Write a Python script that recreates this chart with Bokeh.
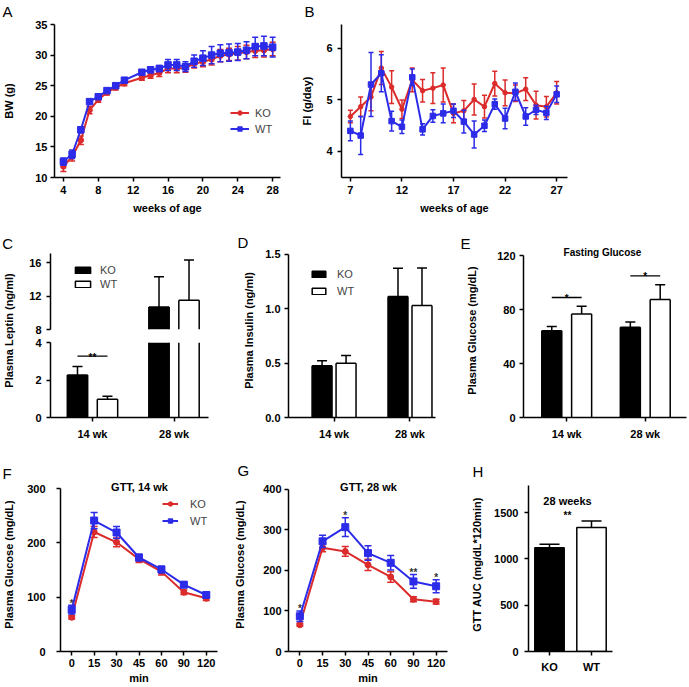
import numpy as np
from bokeh.plotting import figure
from bokeh.layouts import row, column
from bokeh.models import (Range1d, FactorRange, FixedTicker, Label, Legend,
                          LegendItem, PrintfTickFormatter, Title)
from bokeh.core.properties import value
from bokeh.embed import file_html
from bokeh.resources import INLINE

# ---------------- data ----------------
# A: body weight
bw_weeks = [4, 5, 6, 7, 8, 9, 10, 11, 13, 14, 15, 16, 17, 18, 19, 20, 21, 22, 23, 24, 25, 26, 27, 28]
bw_ko = [11.8, 13.4, 16.1, 21.0, 22.7, 23.9, 24.7, 25.4, 26.3, 26.7, 27.1, 27.8,
         27.8, 27.9, 28.6, 28.9, 29.3, 29.9, 30.1, 30.3, 30.5, 30.7, 30.8, 31.0]
bw_ko_err = [0.8, 0.7, 0.7, 0.6, 0.4, 0.4, 0.4, 0.4, 0.4, 0.5, 0.6, 0.7,
             0.7, 0.7, 0.7, 0.8, 0.9, 1.0, 1.0, 1.1, 1.1, 1.1, 1.1, 1.1]
bw_wt = [12.6, 13.8, 17.8, 22.4, 23.2, 24.2, 25.0, 25.9, 27.2, 27.6, 27.8, 28.4,
         28.4, 28.1, 29.0, 29.5, 30.0, 30.3, 30.4, 30.5, 30.8, 31.4, 31.5, 31.3]
bw_wt_err = [0.6, 0.7, 0.5, 0.3, 0.3, 0.3, 0.3, 0.4, 0.4, 0.5, 0.5, 0.9,
             0.9, 0.8, 1.0, 1.2, 1.4, 1.4, 1.4, 1.4, 1.4, 1.5, 1.6, 1.6]

# B: food intake
fi_weeks = [7, 8, 9, 10, 11, 12, 13, 14, 15, 16, 17, 18, 19, 20, 21, 22, 23, 24, 25, 26, 27]
fi_ko = [4.68, 4.87, 5.06, 5.62, 5.25, 4.82, 5.39, 5.18, 5.23, 5.29, 4.74,
         4.79, 5.01, 4.87, 5.32, 5.14, 5.13, 5.21, 4.90, 4.87, 5.14]
fi_ko_err = [0.12, 0.19, 0.27, 0.32, 0.32, 0.18, 0.23, 0.22, 0.30, 0.33, 0.18,
             0.20, 0.30, 0.22, 0.24, 0.25, 0.16, 0.22, 0.27, 0.20, 0.22]
fi_wt = [4.40, 4.31, 5.30, 5.52, 4.59, 4.48, 5.44, 4.43, 4.69, 4.74, 4.79,
         4.58, 4.33, 4.50, 4.92, 4.64, 5.16, 4.68, 4.81, 4.75, 5.11]
fi_wt_err = [0.19, 0.37, 0.62, 0.36, 0.19, 0.13, 0.16, 0.11, 0.12, 0.18, 0.13,
             0.22, 0.26, 0.11, 0.10, 0.20, 0.17, 0.17, 0.09, 0.13, 0.16]

# C-E: grouped bars
groups = ["14 wk", "28 wk"]
leptin_ko = [2.27, 10.7]
leptin_ko_err = [0.45, 3.6]
leptin_wt = [0.98, 11.5]
leptin_wt_err = [0.15, 4.8]
leptin_sig = ["**", ""]

insulin_ko = [0.477, 1.114]
insulin_ko_err = [0.045, 0.26]
insulin_wt = [0.50, 1.03]
insulin_wt_err = [0.07, 0.345]

glucose_ko = [64.3, 66.8]
glucose_ko_err = [3.2, 4.0]
glucose_wt = [76.7, 87.4]
glucose_wt_err = [5.7, 11.0]
glucose_sig = ["*", "*"]

# F-G: GTT
gtt_min = ["0", "15", "30", "45", "60", "90", "120"]
gtt14_ko = [63, 220, 201, 170, 147, 109, 98]
gtt14_ko_err = [3, 10, 8, 6, 6, 4, 4]
gtt14_wt = [77, 241, 219, 173, 151, 123, 104]
gtt14_wt_err = [8, 15, 11, 6, 6, 5, 5]
gtt14_sig = ["*", "", "", "", "", "", ""]

gtt28_ko = [66, 256, 247, 214, 184, 129, 123]
gtt28_ko_err = [3, 10, 12, 14, 13, 6, 6]
gtt28_wt = [87, 272, 307, 243, 219, 173, 161]
gtt28_wt_err = [13, 15, 23, 18, 18, 17, 16]
gtt28_sig = ["*", "", "*", "", "", "**", "*"]

# H: AUC
auc_groups = ["KO", "WT"]
auc = [1120, 1337]
auc_err = [37, 72]

# ---------------- styling helpers ----------------
FONT = "Liberation Sans"
RED = "#db2b2b"
BLUE = "#2b2be8"
LETTER_H = 17


def make(box, frame, xr, yr, x_axis=True, y_axis=True):
    bx0, by0, bx1, by1 = box
    fx0, fy0, fx1, fy1 = frame
    p = figure(width=bx1 - bx0, height=by1 - by0, x_range=xr, y_range=yr,
               output_backend="svg", toolbar_location=None,
               x_axis_location="below" if x_axis else None,
               y_axis_location="left" if y_axis else None,
               min_border_left=fx0 - bx0, min_border_right=bx1 - fx1,
               min_border_top=fy0 - by0, min_border_bottom=by1 - fy1)
    p.outline_line_color = None
    p.background_fill_color = "white"
    p.border_fill_color = "white"
    p.grid.visible = False
    for ax in p.axis:
        ax.axis_line_width = 1.5
        ax.axis_line_color = "black"
        ax.major_tick_line_width = 1.5
        ax.major_tick_line_color = "black"
        ax.major_tick_in = 0
        ax.major_tick_out = 4
        ax.minor_tick_line_color = None
        ax.major_label_text_font = FONT
        ax.major_label_text_font_style = "bold"
        ax.major_label_text_font_size = "11px"
        ax.major_label_text_color = "black"
        ax.axis_label_text_font = FONT
        ax.axis_label_text_font_style = "bold"
        ax.axis_label_text_font_size = "11px"
        ax.axis_label_text_color = "black"
    return p


def letter(p, text, lx, baseline, frame_left, frame_top, border_top, mode="bottom"):
    t = p.title
    t.text = text
    t.align = "left"
    t.offset = lx - frame_left
    t.text_font = FONT
    t.text_font_size = "15px"
    t.text_font_style = "normal"
    t.text_color = "black"
    smax = border_top - 2 - LETTER_H
    if mode == "top":
        t.vertical_align = "top"
        t.standoff = max(0, smax)
    else:
        t.vertical_align = "bottom"
        t.standoff = min(int(round(2 * (frame_top - (baseline + 3.2)))), smax)


def inlabel(p, frame, text, rx, ry, size="11px", bold=True, align="center"):
    fx0, fy0, fx1, fy1 = frame
    p.add_layout(Label(x=rx - fx0, y=fy1 - ry, x_units="screen", y_units="screen",
                       text=text, text_font=FONT, text_font_size=size,
                       text_font_style="bold" if bold else "normal",
                       text_align=align, text_baseline="alphabetic", text_color="black"))


def legend(p, frame, items, left, c1, c2, gw, gh, standoff, h=13):
    fx0, fy0, fx1, fy1 = frame
    spacing = max(0, int(round(c2 - c1 - h)))
    bottom = c2 + h / 2
    leg = Legend(items=items, location=(left - fx0, fy1 - bottom),
                 orientation="vertical", padding=0, margin=0, spacing=spacing,
                 glyph_width=gw, glyph_height=gh, label_height=gh, label_standoff=standoff,
                 label_text_font=FONT, label_text_font_size="11px",
                 border_line_color=None, background_fill_alpha=0)
    p.add_layout(leg)


def errbars(p, x, y, e, color, cap, lw=1.5, both=True):
    y = np.asarray(y, float)
    e = np.asarray(e, float)
    hi = y + e
    lo = y - e if both else y
    p.segment(x0=x, y0=lo, x1=x, y1=hi, line_color=color, line_width=lw)
    p.scatter(x=x, y=hi, marker="dash", size=cap, line_color=color, line_width=lw)
    if both:
        p.scatter(x=x, y=lo, marker="dash", size=cap, line_color=color, line_width=lw)


def series(p, x, y, e, color, marker, msize, cap, lw=2):
    errbars(p, x, y, e, color, cap)
    ln = p.line(x=x, y=y, line_color=color, line_width=lw)
    mk = p.scatter(x=x, y=y, marker=marker, size=msize, fill_color=color, line_color=color)
    return ln, mk


def grouped(p, ko, ko_err, wt, wt_err, off, w, cap, ylo=0.0, yhi=np.inf):
    gx = np.arange(len(groups), dtype=float)
    proxies = []
    for xs, vals, errs, fill in ((gx - off, ko, ko_err, "black"), (gx + off, wt, wt_err, "white")):
        vals = np.asarray(vals, float)
        errs = np.asarray(errs, float)
        vis = vals > ylo
        xv, v, ev = xs[vis], vals[vis], errs[vis]
        top = np.minimum(v, yhi)
        bot = np.full_like(v, max(ylo, 0.0))
        p.vbar(x=xv, top=top, bottom=bot, width=w, fill_color=fill, line_color=None)
        for side in (-w / 2, w / 2):
            p.segment(x0=xv + side, y0=bot, x1=xv + side, y1=top, line_color="black", line_width=1.5)
        inside = v <= yhi
        p.segment(x0=xv[inside] - w / 2, y0=top[inside], x1=xv[inside] + w / 2, y1=top[inside],
                  line_color="black", line_width=1.5)
        errbars(p, xv[inside], v[inside], ev[inside], "black", cap, both=False)
        # legend-only swatch (NaN data: never drawn in the plot area)
        proxies.append(p.vbar(x=np.array([np.nan]), top=np.array([np.nan]), width=w,
                              fill_color=fill, line_color="black", line_width=1.5))
    p.xaxis.ticker = FixedTicker(ticks=list(gx))
    p.xaxis.major_label_overrides = {float(i): g for i, g in enumerate(groups)}
    return proxies


def sig(p, ko, ko_err, wt, wt_err, stars, off, pad):
    gx = np.arange(len(groups), dtype=float)
    tops = np.maximum(np.add(ko, ko_err), np.add(wt, wt_err)) + pad
    sel = [i for i, s in enumerate(stars) if s]
    p.segment(x0=gx[sel] - off, y0=tops[sel], x1=gx[sel] + off, y1=tops[sel],
              line_color="black", line_width=1.3)
    p.text(x=gx[sel], y=tops[sel], text=[stars[i] for i in sel], text_font=value(FONT),
           text_font_size="10px", text_font_style="bold", text_align="center",
           text_baseline="alphabetic", y_offset=1, text_color="black")


# ---------------- A ----------------
frA = (52, 24, 280, 177)
pA = make((0, 0, 298, 220), frA, Range1d(2.98, 28.9), Range1d(10, 35))
pA.xaxis.ticker = FixedTicker(ticks=[4, 8, 12, 16, 20, 24, 28])
pA.yaxis.ticker = FixedTicker(ticks=[10, 15, 20, 25, 30, 35])
pA.xaxis.axis_label = "weeks of age"
pA.yaxis.axis_label = "BW (g)"
pA.yaxis.major_label_standoff = 3
pA.yaxis.axis_label_standoff = 17
pA.xaxis.major_label_standoff = 4
pA.xaxis.axis_label_standoff = 5
lk, mk = series(pA, bw_weeks, bw_ko, bw_ko_err, RED, "circle", 5.5, 6)
lw_, mw = series(pA, bw_weeks, bw_wt, bw_wt_err, BLUE, "square", 6.5, 6)
legend(pA, frA, [LegendItem(label="KO", renderers=[lk, mk]),
                 LegendItem(label="WT", renderers=[lw_, mw])], 228, 111, 128, 19, 11, 6)
letter(pA, "A", 0, 14, 52, 24, 24, mode="top")

# ---------------- B ----------------
frB = (338, 24, 567, 177)
pB = make((298, 0, 689, 220), frB, Range1d(6.14, 28.05), Range1d(3.495, 6.466))
pB.xaxis.ticker = FixedTicker(ticks=[7, 12, 17, 22, 27])
pB.yaxis.ticker = FixedTicker(ticks=[4, 5, 6])
pB.xaxis.axis_label = "weeks of age"
pB.yaxis.axis_label = "FI (g/day)"
pB.yaxis.major_label_standoff = 5
pB.yaxis.axis_label_standoff = 10
pB.xaxis.major_label_standoff = 4
pB.xaxis.axis_label_standoff = 5
series(pB, fi_weeks, fi_ko, fi_ko_err, RED, "circle", 4.5, 5)
series(pB, fi_weeks, fi_wt, fi_wt_err, BLUE, "square", 5.5, 5)
letter(pB, "B", 301, 13.5, 338, 24, 24, mode="top")

# ---------------- C (broken axis) ----------------
pCl = figure(width=22, height=235, x_range=Range1d(0, 1), y_range=Range1d(0, 1),
             output_backend="svg", toolbar_location=None,
             x_axis_location=None, y_axis_location=None,
             min_border_left=0, min_border_right=0, min_border_top=23, min_border_bottom=38)
pCl.outline_line_color = None
pCl.grid.visible = False
pCl.add_layout(Title(text="Plasma Leptin (ng/ml)", align="center", vertical_align="bottom",
                     standoff=0, text_font=FONT, text_font_size="11px",
                     text_font_style="bold", text_color="black"), "left")
letter(pCl, "C", 2.7, 247.7, 15, 243, 23)

xrC = Range1d(-0.515, 1.423)
frCu = (50, 243, 208, 329)
pCu = make((22, 220, 225, 335), frCu, xrC, Range1d(8, 18.27), x_axis=False)
pCu.yaxis.ticker = FixedTicker(ticks=[8, 12, 16])
pCu.yaxis.bounds = (8, 17.07)
pCu.yaxis.major_label_standoff = 5
pk, pw = grouped(pCu, leptin_ko, leptin_ko_err, leptin_wt, leptin_wt_err, 0.184, 0.25, 10,
                 ylo=8)
legend(pCu, frCu, [LegendItem(label="KO", renderers=[pk]),
                   LegendItem(label="WT", renderers=[pw])], 73, 268, 283.5, 19, 8, 8)

frCd = (50, 342, 208, 417)
pCd = make((22, 335, 225, 455), frCd, xrC, Range1d(0, 4))
pCd.yaxis.ticker = FixedTicker(ticks=[0, 2, 4])
pCd.yaxis.major_label_standoff = 5
pCd.xaxis.major_label_standoff = 6
grouped(pCd, leptin_ko, leptin_ko_err, leptin_wt, leptin_wt_err, 0.184, 0.25, 10, yhi=4)
sig(pCd, leptin_ko, leptin_ko_err, leptin_wt, leptin_wt_err, leptin_sig, 0.184, 0.55)

# ---------------- D ----------------
frD = (288, 243, 435, 417)
pD = make((225, 220, 455, 455), frD, Range1d(-0.6, 1.336), Range1d(0, 1.601))
pD.yaxis.ticker = FixedTicker(ticks=[0, 0.5, 1.0, 1.5])
pD.yaxis.bounds = (0, 1.5)
pD.yaxis.formatter = PrintfTickFormatter(format="%.1f")
pD.yaxis.axis_label = "Plasma Insulin (ng/ml)"
pD.yaxis.major_label_standoff = 4
pD.yaxis.axis_label_standoff = 7
pD.xaxis.major_label_standoff = 6
pk, pw = grouped(pD, insulin_ko, insulin_ko_err, insulin_wt, insulin_wt_err, 0.158, 0.263, 10)
legend(pD, frD, [LegendItem(label="KO", renderers=[pk]),
                 LegendItem(label="WT", renderers=[pw])], 310, 272, 290, 17, 8, 10)
letter(pD, "D", 237, 247, 288, 243, 23)

# ---------------- E ----------------
frE = (523, 243, 686, 417)
pE = make((455, 220, 689, 455), frE, Range1d(-0.55, 1.525), Range1d(0, 128.9))
pE.yaxis.ticker = FixedTicker(ticks=[0, 40, 80, 120])
pE.yaxis.bounds = (0, 120)
pE.yaxis.axis_label = "Plasma Glucose (mg/dL)"
pE.yaxis.major_label_standoff = 4
pE.yaxis.axis_label_standoff = 16
pE.xaxis.major_label_standoff = 6
grouped(pE, glucose_ko, glucose_ko_err, glucose_wt, glucose_wt_err, 0.19, 0.255, 10)
sig(pE, glucose_ko, glucose_ko_err, glucose_wt, glucose_wt_err, glucose_sig, 0.19, 6.5)
letter(pE, "E", 460, 248, 523, 243, 23)
inlabel(pE, frE, "Fasting Glucose", 602, 252, size="10px")


# ---------------- F / G ----------------
def gtt_panel(box, frame, ymax, ytop, yticks, ko, ko_err, wt, wt_err, stars, title, tx,
              ystand, lstand):
    p = make(box, frame, FactorRange(factors=gtt_min), Range1d(0, ytop))
    p.yaxis.ticker = FixedTicker(ticks=yticks)
    p.yaxis.bounds = (0, ymax)
    p.xaxis.axis_label = "min"
    p.yaxis.axis_label = "Plasma Glucose (mg/dL)"
    p.yaxis.major_label_standoff = ystand
    p.yaxis.axis_label_standoff = lstand
    p.xaxis.major_label_standoff = 3
    p.xaxis.axis_label_standoff = 2
    a = series(p, gtt_min, ko, ko_err, RED, "circle", 6, 7)
    b = series(p, gtt_min, wt, wt_err, BLUE, "square", 7, 7)
    p.text(x=gtt_min, y=np.add(wt, wt_err), text=stars, text_font=value(FONT),
           text_font_size="10px", text_font_style="bold", text_align="center",
           text_baseline="alphabetic", y_offset=-2, text_color="#333333")
    inlabel(p, frame, title, tx, 486)
    return p, a, b


frF = (58, 477, 217, 651)
pF, (lk, mk), (lw_, mw) = gtt_panel((0, 455, 228, 687), frF, 300, 320.25, [0, 100, 200, 300],
                                    gtt14_ko, gtt14_ko_err, gtt14_wt, gtt14_wt_err,
                                    gtt14_sig, "GTT, 14 wk", 137, 11, 9)
legend(pF, frF, [LegendItem(label="KO", renderers=[lk, mk]),
                 LegendItem(label="WT", renderers=[lw_, mw])], 160, 502, 520, 16, 11, 12)
letter(pF, "F", 0, 478, 58, 477, 22)

frG = (288, 477, 447, 651)
pG, _, _ = gtt_panel((228, 455, 455, 687), frG, 400, 429.6, [0, 100, 200, 300, 400],
                     gtt28_ko, gtt28_ko_err, gtt28_wt, gtt28_wt_err,
                     gtt28_sig, "GTT, 28 wk", 368, 3, 14)
letter(pG, "G", 237, 475, 288, 477, 22)

# ---------------- H ----------------
frH = (528, 477, 612, 651)
pH = make((455, 455, 689, 687), frH, FactorRange(factors=auc_groups), Range1d(0, 1878))
pH.yaxis.ticker = FixedTicker(ticks=[0, 500, 1000, 1500])
pH.yaxis.bounds = (0, 1791)
pH.yaxis.axis_label = "GTT AUC (mg/dL*120min)"
pH.yaxis.major_label_standoff = 6
pH.yaxis.axis_label_standoff = 8
pH.xaxis.major_label_standoff = 5
auc_fill = ["black", "white"]
pH.vbar(x=auc_groups, top=auc, bottom=0, width=0.7, fill_color=auc_fill,
        line_color="black", line_width=1.5)
errbars(pH, auc_groups, auc, auc_err, "black", 20, both=False)
letter(pH, "H", 472, 476, 528, 477, 22)
inlabel(pH, frH, "28 weeks", 567, 500)
inlabel(pH, frH, "**", 567, 515, size="10px")

layout = column(row(pA, pB),
                row(pCl, column(pCu, pCd), pD, pE),
                row(pF, pG, pH))

open("out.html", "w").write(file_html(layout, INLINE, title="Figure"))
